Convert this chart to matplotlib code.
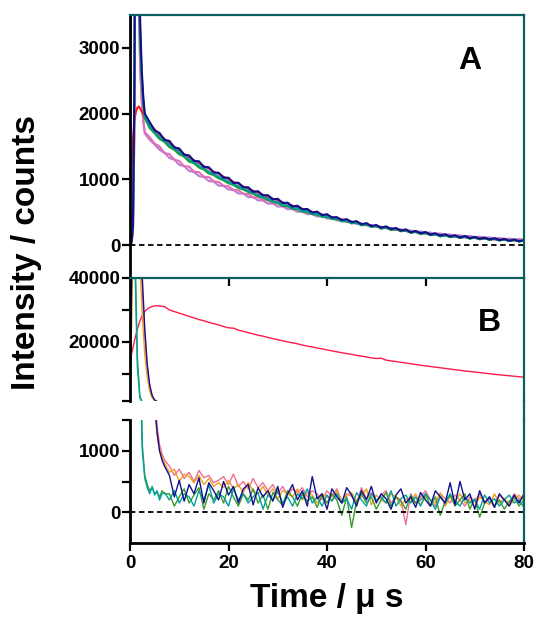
import numpy as np
import matplotlib.pyplot as plt
from matplotlib.lines import Line2D

plt.rcParams['font.family'] = ['Liberation Sans', 'DejaVu Sans']
plt.rcParams['font.weight'] = 'bold'

# 面板 A 的时间轴 (us)
t_a = [0, 0.3, 0.6, 0.9, 1.2, 1.5, 1.8, 2.1, 2.4, 2.7, 3.0] + list(range(4, 81))

# 面板 A 各条衰减曲线 (counts)
a_navy = [0, 50, 300, 2500, 9000, 6000, 4300, 3300, 2650, 2250, 2000,
          1870, 1745, 1705, 1600, 1585, 1485, 1470, 1375, 1365, 1280,
          1275, 1190, 1185, 1105, 1100, 1025, 1025, 945, 950, 880,
          880, 810, 820, 755, 760, 695, 705, 640, 645, 585,
          600, 545, 550, 495, 510, 455, 470, 420, 425, 380,
          395, 350, 365, 315, 335, 290, 305, 265, 285, 245,
          260, 220, 240, 195, 215, 180, 200, 160, 180, 145,
          165, 130, 150, 115, 140, 105, 125, 95, 115, 85,
          105, 75, 95, 65, 85, 58, 75]
a_teal = [0, 40, 250, 2200, 8500, 5800, 4100, 3150, 2550, 2200, 1960,
          1810, 1720, 1640, 1590, 1520, 1470, 1410, 1365, 1300, 1265,
          1205, 1170, 1115, 1080, 1040, 1000, 965, 925, 895, 855,
          830, 790, 765, 725, 710, 665, 655, 610, 605, 560,
          560, 515, 520, 475, 480, 435, 445, 400, 410, 365,
          380, 335, 350, 305, 325, 280, 300, 255, 275, 235,
          255, 215, 230, 190, 210, 170, 190, 155, 170, 135,
          155, 125, 140, 110, 130, 100, 118, 90, 108, 82,
          98, 72, 90, 64, 80, 56, 70]
a_green = [-100, 9000, 9000, 9000, 9000, 5500, 3900, 3000, 2480, 2150, 1930,
           1780, 1700, 1615, 1570, 1490, 1450, 1380, 1345, 1270, 1245,
           1180, 1150, 1090, 1065, 1015, 985, 940, 915, 870, 845,
           810, 780, 745, 720, 690, 660, 640, 600, 590, 555,
           545, 510, 505, 470, 465, 430, 430, 395, 398, 360,
           368, 330, 340, 300, 315, 275, 290, 250, 268, 230,
           245, 210, 225, 185, 205, 168, 185, 150, 165, 132,
           150, 120, 136, 108, 125, 98, 114, 88, 104, 80,
           95, 70, 86, 62, 78, 55, 68]
a_red = [650, 1100, 1600, 1900, 2030, 2090, 2110, 2070, 2030, 1990, 1950,
         1840, 1760, 1680, 1615, 1555, 1495, 1445, 1385, 1340, 1290,
         1250, 1200, 1165, 1115, 1085, 1040, 1005, 960, 935, 890,
         860, 825, 800, 765, 740, 705, 685, 650, 630, 600,
         580, 550, 530, 505, 490, 465, 450, 425, 415, 390,
         378, 355, 345, 325, 315, 295, 288, 268, 262, 245,
         238, 222, 215, 200, 196, 182, 178, 165, 160, 150,
         146, 135, 132, 122, 120, 110, 108, 100, 98, 90,
         88, 82, 80, 74, 72, 66, 64]
a_pink = [0, 30, 200, 1800, 7500, 5200, 3600, 2700, 2200, 1900, 1720,
          1640, 1545, 1500, 1400, 1385, 1300, 1280, 1200, 1195, 1115,
          1110, 1040, 1035, 970, 960, 905, 895, 840, 835, 780,
          780, 725, 730, 680, 680, 630, 635, 585, 590, 545,
          548, 505, 510, 470, 472, 435, 440, 400, 405, 370,
          375, 340, 345, 310, 320, 285, 295, 262, 272, 240,
          250, 220, 230, 200, 210, 182, 192, 165, 175, 150,
          158, 135, 145, 122, 132, 110, 120, 100, 110, 90,
          100, 82, 92, 74, 84, 66, 76]
a_purple = [0, 30, 180, 1700, 7000, 5000, 3500, 2600, 2150, 1870, 1700,
            1600, 1530, 1450, 1405, 1325, 1300, 1220, 1200, 1130, 1110,
            1050, 1035, 975, 965, 905, 900, 845, 840, 785, 785,
            730, 730, 680, 680, 630, 635, 585, 590, 545, 550,
            505, 510, 470, 475, 435, 442, 405, 412, 375, 382,
            348, 355, 322, 330, 297, 306, 275, 282, 255, 262,
            236, 242, 218, 224, 202, 208, 186, 192, 172, 177,
            158, 163, 146, 150, 134, 139, 123, 128, 113, 118,
            103, 108, 95, 99, 87, 91, 83]

# 面板 B/C 的时间轴 (us)
t_b = [0, 0.5, 1.0, 1.5, 2.0, 2.5, 3.0, 3.5, 4.0, 4.5, 5.0, 5.5, 6.0, 6.5, 7.0] + list(range(8, 81))

b_red = [14000, 17500, 21000, 24000, 26500, 28300, 29500, 30300, 30800, 31100,
         31250, 31300, 31250, 31150, 31050,
         30000, 29500, 29000, 28500, 28000, 27500, 27000, 26600, 26100, 25700,
         25300, 24800, 24400, 24300, 23700, 23300, 22900, 22500, 22100, 21800,
         21400, 21000, 20700, 20300, 20000, 19700, 19400, 19000, 18700, 18400,
         18100, 17800, 17500, 17200, 16900, 16600, 16350, 16100, 15800, 15550,
         15300, 15000, 14800, 14900, 14300, 14050, 13850, 13600, 13400, 13150,
         12950, 12700, 12500, 12300, 12100, 11900, 11700, 11500, 11300, 11100,
         10900, 10750, 10550, 10400, 10200, 10050, 9850, 9700, 9550, 9400,
         9250, 9100, 8950]
b_navy = [0, 60000, 120000, 90000, 60000, 40000, 24000, 13000, 6500, 3200,
          1800, 1300, 1000, 850, 750,
          600, 250, 520, 180, 450, 300, 560, 150, 480, 350,
          200, 500, 280, 420, 150, 380, 450, 120, 400, 250,
          350, 180, 420, 80, 300, 450, 200, 350, 100, 580,
          220, 300, 50, 380, 250, 150, 400, 280, 100, 350,
          200, 420, 150, 300, 220, 50, 280, 380, 150, 250,
          80, 320, 200, 100, 350, 250, 150, 480, 120, 500,
          200, 300, 50, 350, 150, 250, 80, 300, 200, 100,
          280, 150, 300]
b_pink = [0, 50000, 110000, 85000, 55000, 36000, 22000, 12000, 6000, 3000,
          1900, 1400, 1100, 950, 850,
          750, 600, 700, 550, 650, 500, 680, 560, 600, 480,
          520, 580, 450, 620, 420, 500, 380, 550, 400, 480,
          350, 450, 300, 420, 280, 380, 320, 400, 250, 350,
          300, 200, 350, 250, 380, 180, 300, 260, 150, 400,
          220, 320, 180, 280, 350, 150, 250, 200, -200, 300,
          150, 250, 350, 200, 100, 300, 220, 150, 280, 200,
          100, 250, 180, 300, 150, 220, 80, 280, 200, 150,
          300, 220, 250]
b_orange = [0, 40000, 100000, 70000, 45000, 28000, 16000, 9000, 4500, 2500,
            1700, 1250, 1000, 900, 800,
            650, 700, 500, 620, 580, 480, 600, 450, 550, 420,
            480, 400, 520, 380, 450, 320, 480, 350, 300, 420,
            280, 380, 220, 350, 300, 250, 380, 200, 320, 280,
            150, 300, 250, 200, 350, 150, 280, 320, 180, 250,
            380, 120, 280, 200, 150, 300, 250, 100, 220, 180,
            300, 120, 250, 200, 150, 320, 100, 250, 180, 300,
            150, 200, 80, 250, 180, 120, 300, 150, 230, 100,
            200, 280, 180]
b_green = [0, 90000, 50000, 15000, 3000, 1100, 600, 450, 350, 400,
           300, 320, 250, 350, 300,
           300, 100, 250, 380, 150, 280, 400, 50, 300, 200,
           350, 150, 420, 250, 100, 300, 200, 380, 150, 280,
           50, 320, 200, 120, 350, 250, 100, 300, 180, 250,
           80, 280, 150, 300, 200, -50, 250, -250, 180, 300,
           150, 250, 50, 200, 320, 100, 250, 180, 50, 280,
           150, 200, 300, 100, 250, -50, 180, 280, 100, 200,
           300, 50, 220, -80, 150, 250, 100, 200, 50, 180,
           250, 100, 200]
b_teal = [0, 80000, 45000, 12000, 2500, 1000, 550, 400, 300, 420,
          280, 350, 200, 300, 320,
          200, 350, 150, 300, 250, 100, 350, 200, 450, 150,
          300, 250, 100, 380, 200, 300, 150, 250, 320, 50,
          280, 200, 350, 150, 250, 100, 300, 220, 380, 150,
          250, 100, 280, 180, 300, 150, 220, 50, 320, 200,
          100, 300, 200, 250, 150, 350, 100, 220, 280, 150,
          250, 100, 300, 200, 50, 250, 150, 300, 180, 100,
          250, 150, 200, 50, 280, 150, 220, 100, 200, 280,
          150, 200, 80]

x_ticks = [0, 20, 40, 60, 80]
a_yticks = [0, 1000, 2000, 3000]
b_yticks = [20000, 40000]
c_yticks = [0, 1000]

spine_c = '#0b5f5f'
W, H = 536, 619

def px_rect(x0, y0, x1, y1):
    return [x0 / W, 1 - y1 / H, (x1 - x0) / W, (y1 - y0) / H]

fig = plt.figure(figsize=(5.36, 6.19), dpi=100)
ax_a = fig.add_axes(px_rect(130, 15, 524, 278))
ax_b = fig.add_axes(px_rect(130, 278, 524, 401))
ax_c = fig.add_axes(px_rect(130, 420, 524, 543))

def style(ax):
    ax.set_xlim(0, 80)
    ax.spines['left'].set_linewidth(2)
    ax.spines['left'].set_color('black')
    for s in ['top', 'right']:
        ax.spines[s].set_color(spine_c)
        ax.spines[s].set_linewidth(1.6)
    ax.spines['bottom'].set_linewidth(2)
    ax.tick_params(axis='y', direction='out', length=6, width=1.6, pad=1, labelsize=13.5)
    ax.tick_params(axis='x', length=6, width=1.6, labelsize=13.5)
    for lab in ax.get_yticklabels() + ax.get_xticklabels():
        lab.set_fontweight('bold')

# 面板 A
for y, c in [(a_purple, '#b77fd0'), (a_pink, '#e46fb8'), (a_red, '#ff1a1a'),
             (a_green, '#1c9a1c'), (a_teal, '#00a0a0'), (a_navy, '#10108c')]:
    ax_a.plot(t_a, y, color=c, lw=1.5)
ax_a.plot([0, 80], [0, 0], 'k--', lw=1.3, dashes=(3, 2))
ax_a.set_ylim(-500, 3500)
ax_a.set_yticks(a_yticks)
ax_a.set_xticks([])
ax_a.spines['bottom'].set_visible(False)
style(ax_a)
ax_a.text(69, 2800, 'A', fontsize=23, fontweight='bold', ha='center', va='center')

# 面板 B
ax_b.plot(t_b, b_red, color='#ff1a4a', lw=1.0)
for y, c in [(b_pink, '#f07090'), (b_orange, '#f0a020'), (b_green, '#3a9a2a'),
             (b_teal, '#00a0a0'), (b_navy, '#10108c')]:
    ax_b.plot(t_b, y, color=c, lw=1.0)
ax_b.set_ylim(1500, 40000)
ax_b.set_yticks(b_yticks)
ax_b.set_yticks([1500, 10000, 30000], minor=True)
ax_b.tick_params(axis='y', which='minor', direction='out', length=6, width=1.6)
ax_b.set_xticks([20, 40, 60])
ax_b.tick_params(axis='x', top=True, bottom=False, labelbottom=False, direction='in')
ax_b.spines['bottom'].set_visible(False)
style(ax_b)
ax_b.text(73, 26000, 'B', fontsize=23, fontweight='bold', ha='center', va='center')

# 面板 C
for y, c in [(b_pink, '#f07090'), (b_orange, '#f0a020'), (b_green, '#3a9a2a'),
             (b_teal, '#00a0a0'), (b_navy, '#10108c')]:
    ax_c.plot(t_b, y, color=c, lw=1.0)
ax_c.plot([0, 80], [0, 0], 'k--', lw=1.3, dashes=(3, 2))
ax_c.set_ylim(-500, 1500)
ax_c.set_yticks(c_yticks)
ax_c.set_yticks([500, 1500], minor=True)
ax_c.tick_params(axis='y', which='minor', direction='out', length=6, width=1.6)
ax_c.set_xticks(x_ticks)
ax_c.tick_params(axis='x', direction='out', pad=3)
ax_c.spines['top'].set_visible(False)
style(ax_c)

# 右侧轴线贯穿断轴间隙
fig.add_artist(Line2D([524 / W, 524 / W], [1 - 401 / H, 1 - 420 / H], color=spine_c, lw=1.6))

fig.text(27 / W, 1 - 252 / H, 'Intensity / counts', rotation=90, fontsize=24,
         fontweight='bold', ha='center', va='center')
fig.text(327 / W, 1 - 598 / H, 'Time / μ s', fontsize=24, fontweight='bold',
         ha='center', va='center')

fig.savefig('out.png', dpi=100)
